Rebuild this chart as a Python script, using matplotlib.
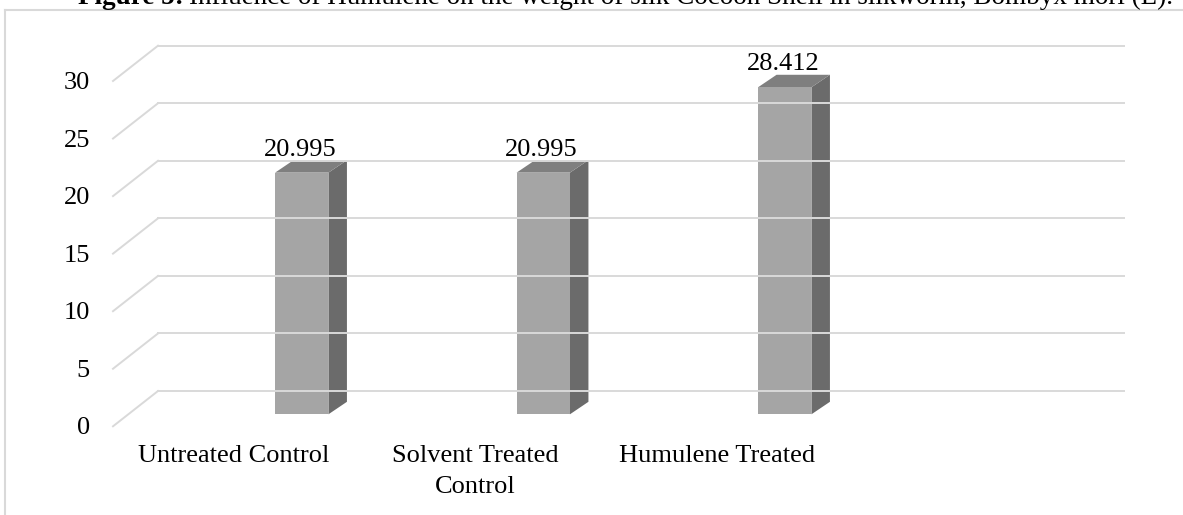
import numpy as np
import matplotlib.pyplot as plt
from matplotlib.patches import Polygon
from matplotlib.lines import Line2D
from matplotlib.transforms import IdentityTransform

# data
categories = ['Untreated Control', 'Solvent Treated\nControl', 'Humulene Treated', '']
values = [20.995, 20.995, 28.412]
value_labels = ['20.995', '20.995', '28.412']
yticks = [0, 5, 10, 15, 20, 25, 30]

plt.rcParams['font.family'] = ['Liberation Serif', 'DejaVu Serif']

W, H = 1183, 515
fig = plt.figure(figsize=(W / 100, H / 100), dpi=100)

# back wall of the 3d plot
ax = fig.add_axes([158 / W, (H - 391) / H, 966 / W, (391 - 45.7) / H])
ax.set_xlim(-0.5, len(categories) - 0.5)
ax.set_ylim(0, 30)
ax.axis('off')

grid_col = '#d9d9d9'
floor = (-45, -35.3)      # front edge offset in pixels
bar_off = (23, -23.3)     # front face of bars
depth = (18.5, 12.5)      # bar depth
bar_w = 0.221
fs = 19


def pt(x, v, dx=0, dy=0):
    p = ax.transData.transform((x, v))
    return (p[0] + dx, p[1] + dy)


def add_line(p1, p2):
    fig.add_artist(Line2D([p1[0], p2[0]], [p1[1], p2[1]], color=grid_col, lw=1.4,
                          transform=IdentityTransform()))


def add_poly(pts, color):
    fig.add_artist(Polygon(pts, closed=True, facecolor=color, edgecolor='none',
                           transform=IdentityTransform()))


# gridlines + side wall lines
x0, x1 = ax.get_xlim()
for v in yticks:
    add_line(pt(x0, v), pt(x1, v))
    add_line(pt(x0, v), pt(x0, v, *floor))
    tx, ty = pt(x0, v, floor[0] - 23, floor[1] - 2)
    fig.text(tx / W, ty / H, str(v), ha='right', va='center', fontsize=fs)

# bars
for i, v in enumerate(values):
    l, r = i - bar_w / 2, i + bar_w / 2
    fl_b = pt(l, 0, *bar_off)
    fr_b = pt(r, 0, *bar_off)
    fr_t = pt(r, v, *bar_off)
    fl_t = pt(l, v, *bar_off)
    br_b = (fr_b[0] + depth[0], fr_b[1] + depth[1])
    br_t = (fr_t[0] + depth[0], fr_t[1] + depth[1])
    bl_t = (fl_t[0] + depth[0], fl_t[1] + depth[1])
    add_poly([fr_b, br_b, br_t, fr_t], '#6b6b6b')
    add_poly([fl_t, fr_t, br_t, bl_t], '#7f7f7f')
    add_poly([fl_b, fr_b, fr_t, fl_t], '#a5a5a5')
    lx, ly = pt(i, v, bar_off[0] - 2, -6.4)
    fig.text(lx / W, ly / H, value_labels[i], ha='center', va='baseline', fontsize=fs)

# category labels
for i, c in enumerate(categories):
    cx, cy = pt(i, 0, *floor)
    fig.text(cx / W, (cy - 19) / H, c, ha='center', va='top', fontsize=fs,
             linespacing=1.5)

# outer frame
fig.add_artist(Line2D([5, 5], [0, H - 10], color=grid_col, lw=1.5,
                      transform=IdentityTransform()))
fig.add_artist(Line2D([5, W], [H - 10, H - 10], color=grid_col, lw=1.5,
                      transform=IdentityTransform()))

# title (top part is cut off like in the source)
t1 = fig.text(78 / W, (H - 4) / H, 'Figure 5:', fontsize=19.5, fontweight='bold',
              va='baseline')
r = fig.canvas.get_renderer()
bb = t1.get_window_extent(r)
fig.text((bb.x1 + 5) / W, (H - 4) / H,
         'Influence of Humulene on the weight of silk Cocoon Shell in silkworm, Bombyx mori (L).',
         fontsize=19.5, va='baseline')

fig.savefig('out.png', dpi=100)
